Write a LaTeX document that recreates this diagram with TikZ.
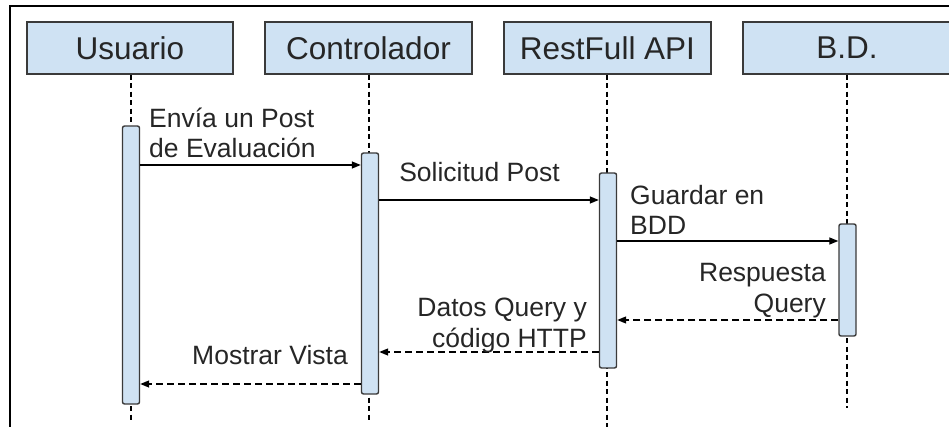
\documentclass[tikz,border=0pt]{standalone}
\usepackage{fontspec}
\setmainfont{Liberation Sans}
\usetikzlibrary{arrows.meta}
\definecolor{boxfill}{HTML}{CFE2F3}
\definecolor{txt}{HTML}{262626}
\definecolor{edge}{HTML}{3A3A3A}
\begin{document}
\begin{tikzpicture}[x=1pt,y=-1pt,
  titlebox/.style={draw=edge, line width=1.4pt, fill=boxfill, minimum height=52pt, inner sep=0pt,
    font=\fontsize{31.5pt}{36pt}\selectfont, text=txt},
  actbar/.style={draw=edge, line width=1.4pt, fill=boxfill, rounded corners=2pt, minimum width=17pt, inner sep=0pt},
  lifeline/.style={draw=black, line width=1.2pt, dash pattern=on 5pt off 3.5pt},
  msg/.style={draw=black, line width=1.3pt, -{Triangle[length=9pt,width=7pt]}},
  reply/.style={msg, dash pattern=on 7pt off 4pt},
  lbl/.style={inner sep=0pt, text=txt, font=\fontsize{26.5pt}{30.5pt}\selectfont}
]
\useasboundingbox (0,0) rectangle (949,427);
% frame
\draw[line width=2pt] (10,427) -- (10,6.5) -- (950,6.5);

% title boxes
\node[titlebox, minimum width=206pt] (u) at (130,48) {Usuario};
\node[titlebox, minimum width=207pt] (c) at (368.5,48) {Controlador};
\node[titlebox, minimum width=207pt] (r) at (607.5,48) {RestFull API};
\node[titlebox, minimum width=208pt] (b) at (847,48) {B.D.};

% lifeline ends
\coordinate (ue) at (131,420);
\coordinate (ce) at (369,420);
\coordinate (re) at (607,427);
\coordinate (be) at (847,408);
\draw[lifeline] (u.south -| ue) -- (ue);
\draw[lifeline] (c.south -| ce) -- (ce);
\draw[lifeline] (r.south -| re) -- (re);
\draw[lifeline] (b.south -| be) -- (be);

% activation bars
\node[actbar, minimum height=278pt] (ub) at (131,265) {};
\node[actbar, minimum height=241pt] (cb) at (370,273.5) {};
\node[actbar, minimum height=195pt] (rb) at (608,270.5) {};
\node[actbar, minimum height=112pt] (bb) at (847.5,280) {};

% messages
\draw[msg] (ub.east |- 0,165) -- (cb.west |- 0,165);
\draw[msg] (cb.east |- 0,200) -- (rb.west |- 0,200);
\draw[msg] (rb.east |- 0,241) -- (bb.west |- 0,241);
\draw[reply] (bb.west |- 0,320) -- (rb.east |- 0,320);
\draw[reply] (rb.west |- 0,352) -- (cb.east |- 0,352);
\draw[reply] (cb.west |- 0,384) -- (ub.east |- 0,384);

% labels
\node[lbl, align=left, anchor=base west] (l1) at (149,158) {Envía un Post\\de Evaluación};
\node[lbl, anchor=base east] (l2) at (560,182) {Solicitud Post};
\node[lbl, align=left, anchor=base west] (l3) at (630,235) {Guardar en\\BDD};
\node[lbl, align=right, anchor=base east] (l4) at (826,312) {Respuesta\\Query};
\node[lbl, align=right, anchor=base east] (l5) at (587,347) {Datos Query y\\código HTTP};
\node[lbl, anchor=base east] (l6) at (348,364) {Mostrar Vista};
\end{tikzpicture}
\end{document}
